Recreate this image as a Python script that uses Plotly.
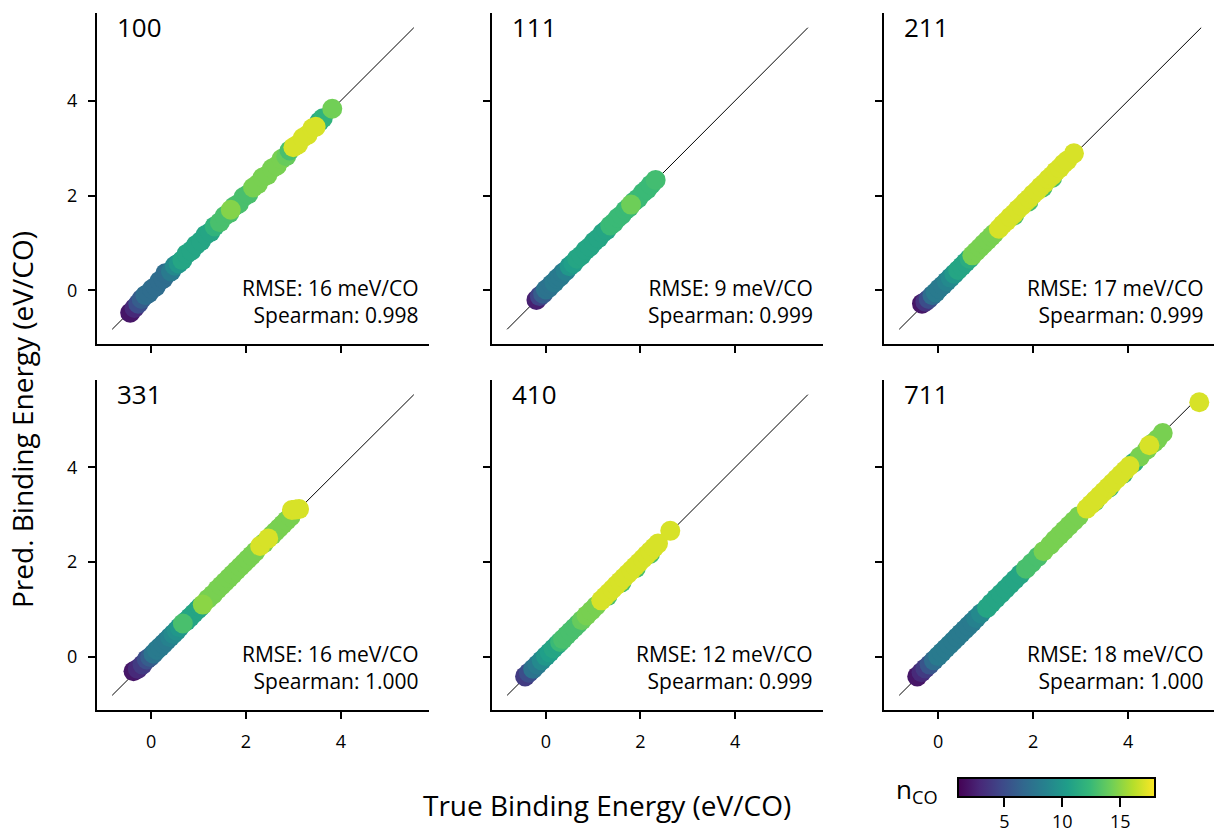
import plotly.graph_objects as go

# ---------------- data ----------------
panel_names = ["100", "111", "211", "331", "410", "711"]
rmse_vals = [16, 9, 17, 16, 12, 18]
spearman_vals = ["0.998", "0.999", "0.999", "1.000", "0.999", "1.000"]

true_100 = [-0.44, -0.35, -0.27, -0.20, -0.12, -0.05, 0.02, 0.10, 0.18, 0.26, 0.30, 0.34, 0.42, 0.50, 0.58,
            0.66, 0.75, 0.85, 0.95, 1.05, 1.15, 1.25, 1.34, 1.45, 1.55, 1.65, 1.75, 1.85, 1.95, 2.05,
            2.15, 2.25, 2.35, 2.45, 2.55, 2.65, 2.75, 2.85, 2.92, 3.55, 3.62, 3.00, 3.10, 3.20, 3.30, 3.40, 3.47,
            3.82, 1.68]
pred_100 = [-0.47, -0.37, -0.28, -0.18, -0.10, -0.06, 0.03, 0.08, 0.20, 0.25, 0.36, 0.36, 0.40, 0.52, 0.57,
            0.64, 0.77, 0.84, 0.96, 1.04, 1.17, 1.23, 1.35, 1.44, 1.57, 1.63, 1.77, 1.83, 1.97, 2.03,
            2.17, 2.24, 2.38, 2.43, 2.57, 2.63, 2.77, 2.83, 2.95, 3.56, 3.63, 3.02, 3.08, 3.22, 3.28, 3.42, 3.45,
            3.83, 1.70]
n_100 = [2, 3, 5, 6, 7, 7, 7, 7, 7, 7, 7, 7, 8, 9, 10,
         11, 11, 11, 11, 11, 11, 11, 12, 13, 13, 13, 13, 13, 13, 13,
         14.5, 14.5, 14.5, 14.5, 14.5, 14.5, 14.5, 14, 13, 11, 12, 17, 17, 17, 17, 17, 17,
         14.3, 14.8]

true_111 = [-0.20, -0.13, -0.06, 0.00, 0.06, 0.12, 0.18, 0.24, 0.30, 0.36, 0.42, 0.50, 0.58, 0.66, 0.75,
            0.84, 0.93, 1.02, 1.11, 1.20, 1.28, 1.36, 1.44, 1.52, 1.60, 1.68, 1.76, 1.86, 1.95, 2.05,
            2.14, 2.22, 2.32, 1.80]
pred_111 = [-0.20, -0.12, -0.07, 0.02, 0.05, 0.13, 0.17, 0.25, 0.29, 0.37, 0.41, 0.51, 0.57, 0.67, 0.74,
            0.85, 0.92, 1.03, 1.10, 1.21, 1.27, 1.37, 1.43, 1.53, 1.59, 1.69, 1.75, 1.87, 1.94, 2.06,
            2.13, 2.23, 2.33, 1.81]
n_111 = [2.5, 4.5, 6, 7.5, 7.5, 7.5, 8, 8, 8, 8, 8.5, 10, 10.5, 11, 11,
         11, 11, 11, 11, 11, 11, 12.5, 12.5, 12.5, 12.5, 12.5, 12.5, 12.5, 12.5, 12.5,
         12.5, 12.5, 12.8, 14.2]

true_211 = [-0.34, -0.27, -0.20, -0.12, -0.05, 0.02, 0.10, 0.18, 0.26, 0.34, 0.42, 0.50, 0.58, 0.66,
            0.72, 0.80, 0.88, 0.96, 1.04, 1.12, 1.18, 1.60, 1.90, 2.20, 2.40,
            1.28, 1.36, 1.44, 1.52, 1.60, 1.68, 1.76, 1.84, 1.92, 2.00, 2.08, 2.16, 2.24, 2.32, 2.40,
            2.48, 2.56, 2.64, 2.72, 2.86]
pred_211 = [-0.28, -0.24, -0.18, -0.10, -0.04, 0.04, 0.11, 0.19, 0.27, 0.35, 0.43, 0.51, 0.59, 0.67,
            0.74, 0.82, 0.90, 0.98, 1.06, 1.14, 1.20, 1.58, 1.87, 2.17, 2.37,
            1.30, 1.39, 1.46, 1.55, 1.62, 1.71, 1.78, 1.87, 1.94, 2.03, 2.10, 2.19, 2.26, 2.35, 2.42,
            2.51, 2.58, 2.67, 2.74, 2.89]
n_211 = [2, 3.5, 5, 7, 8, 8, 8, 8.5, 9, 10, 11, 11, 11, 11.5,
         14.5, 14.5, 14.5, 14.5, 14.5, 14.5, 14.5, 13, 13, 13, 13,
         17, 17, 17, 17, 17, 17, 17, 17, 17, 17, 17, 17, 17, 17, 17,
         17, 17, 17, 17, 17]

true_331 = [-0.37, -0.28, -0.18, -0.09, -0.02, 0.05, 0.12, 0.19, 0.26, 0.33, 0.40, 0.47, 0.54, 0.60,
            0.74, 0.82, 0.90, 0.98, 1.04, 0.67,
            1.20, 1.30, 1.40, 1.48, 1.56, 1.64, 1.72, 1.80, 1.88, 1.96, 2.04, 2.12, 2.20, 1.09,
            2.38, 2.55, 2.62, 2.70, 2.78, 2.86, 2.94, 2.30, 2.47, 2.97, 3.05, 3.12]
pred_331 = [-0.31, -0.26, -0.17, -0.06, -0.01, 0.06, 0.14, 0.20, 0.27, 0.34, 0.41, 0.48, 0.55, 0.62,
            0.75, 0.83, 0.91, 0.99, 1.05, 0.70,
            1.22, 1.31, 1.42, 1.50, 1.58, 1.66, 1.74, 1.82, 1.90, 1.98, 2.06, 2.14, 2.22, 1.10,
            2.40, 2.57, 2.64, 2.72, 2.80, 2.88, 2.96, 2.34, 2.50, 3.10, 3.11, 3.12]
n_331 = [2, 3, 4, 5, 6, 7.5, 8, 8, 8, 8, 8.5, 9, 9.5, 10,
         11, 11, 11, 11, 11, 13,
         14.5, 14.5, 14.5, 14.5, 14.5, 14.5, 14.5, 14.5, 14.5, 14.5, 14.5, 14.5, 14.5, 15,
         14.5, 14.5, 14.5, 14.5, 14.5, 14.5, 14.5, 17, 17, 17, 17, 17]

true_410 = [-0.44, -0.36, -0.27, -0.18, -0.09, 0.00, 0.08, 0.16, 0.24, 0.30, 0.36, 0.44, 0.52, 0.60,
            0.68, 0.76, 0.86, 0.96, 1.06, 1.30, 1.60, 1.90, 2.20,
            1.17, 1.25, 1.33, 1.41, 1.49, 1.57, 1.65, 1.73, 1.81, 1.89, 1.97, 2.05, 2.13, 2.21, 2.29, 2.37, 2.63]
pred_410 = [-0.42, -0.34, -0.26, -0.17, -0.08, 0.01, 0.09, 0.17, 0.25, 0.31, 0.37, 0.45, 0.53, 0.61,
            0.69, 0.77, 0.87, 0.97, 1.07, 1.28, 1.57, 1.87, 2.17,
            1.19, 1.27, 1.35, 1.43, 1.51, 1.59, 1.67, 1.75, 1.83, 1.91, 1.99, 2.07, 2.15, 2.23, 2.31, 2.39, 2.66]
n_410 = [4, 5, 7.5, 8, 9, 10, 10.5, 11, 11, 12.5, 13, 13, 13, 13,
         13, 14, 14.5, 14.5, 14.5, 13, 13, 13, 13,
         17, 17, 17, 17, 17, 17, 17, 17, 17, 17, 17, 17, 17, 17, 17, 17, 17]

true_711 = [-0.44, -0.35, -0.27, -0.18, -0.09, 0.00, 0.08, 0.16, 0.24, 0.32, 0.40, 0.48, 0.56, 0.64,
            0.72, 0.80, 0.90, 1.03, 1.12, 1.22, 1.32, 1.42, 1.52, 1.62, 1.73, 1.85, 1.97,
            2.10, 2.22, 2.36, 2.46, 2.56, 2.66, 2.76, 2.86, 2.96, 3.30, 3.60, 3.90, 4.12, 4.25, 4.40, 4.55, 4.62,
            3.13, 3.22, 3.31, 3.40, 3.49, 3.58, 3.67, 3.76, 3.85, 3.94, 4.03, 4.73, 4.45, 5.50]
pred_711 = [-0.42, -0.33, -0.25, -0.17, -0.08, 0.01, 0.09, 0.17, 0.25, 0.33, 0.41, 0.49, 0.57, 0.65,
            0.73, 0.81, 0.91, 1.03, 1.13, 1.23, 1.33, 1.43, 1.53, 1.63, 1.74, 1.86, 1.98,
            2.11, 2.23, 2.36, 2.47, 2.57, 2.67, 2.77, 2.87, 2.97, 3.28, 3.57, 3.87, 4.10, 4.23, 4.38, 4.53, 4.60,
            3.13, 3.22, 3.31, 3.40, 3.49, 3.58, 3.67, 3.76, 3.85, 3.94, 4.03, 4.73, 4.47, 5.38]
n_711 = [2, 3, 4, 5.5, 7, 8, 8, 8, 8, 8, 8, 8, 8, 8,
         8, 8.5, 9, 11, 11, 11, 11, 11, 11, 11, 11, 13, 13,
         13, 14.5, 14.5, 14.5, 14.5, 14.5, 14.5, 14.5, 14.5, 12, 12, 12, 12, 14.5, 14.5, 14.5, 14.5,
         17, 17, 17, 17, 17, 17, 17, 17, 17, 17, 17, 14.5, 17, 17]

true_all = [true_100, true_111, true_211, true_331, true_410, true_711]
pred_all = [pred_100, pred_111, pred_211, pred_331, pred_410, pred_711]
n_all = [n_100, n_111, n_211, n_331, n_410, n_711]

diag_line = [-0.82, 5.54]
tick_vals = [0, 2, 4]
cbar_ticks = [5, 10, 15]
n_min, n_max = 1, 18

# ---------------- layout ----------------
W, H = 1214, 839
FONT = "Open Sans"
col_px = [(97, 429), (492, 823), (884, 1214)]
row_px = [(13, 344), (380, 710)]
x_ranges = [[-1.14, 5.86], [-1.14, 5.86], [-1.14, 5.81]]
y_range = [-1.13, 5.85]

fig = go.Figure()
layout = dict(
    width=W, height=H, margin=dict(l=0, r=0, t=0, b=0),
    paper_bgcolor="white", plot_bgcolor="white",
    showlegend=False, font=dict(family=FONT, color="black"),
)
annotations = []

for i, name in enumerate(panel_names):
    r, c = divmod(i, 3)
    k = "" if i == 0 else str(i + 1)
    xa, ya = "x" + k, "y" + k
    axis_common = dict(showline=True, linecolor="black", linewidth=2, mirror=False,
                       ticks="outside", ticklen=7, tickwidth=2, tickcolor="black",
                       showgrid=False, zeroline=False, tickvals=tick_vals,
                       tickfont=dict(size=18, family=FONT, color="black"))
    layout["xaxis" + k] = dict(axis_common, domain=[col_px[c][0] / W, col_px[c][1] / W],
                               range=x_ranges[c], anchor=ya, showticklabels=(r == 1),
                               ticklabelstandoff=7)
    layout["yaxis" + k] = dict(axis_common, domain=[1 - row_px[r][1] / H, 1 - row_px[r][0] / H],
                               range=y_range, anchor=xa, showticklabels=(c == 0),
                               ticklabelstandoff=7)

    fig.add_trace(go.Scatter(x=diag_line, y=diag_line, mode="lines",
                             line=dict(color="black", width=1), xaxis=xa, yaxis=ya,
                             hoverinfo="skip"))
    marker = dict(size=20, color=n_all[i], colorscale="Viridis", cmin=n_min, cmax=n_max,
                  line=dict(width=0), opacity=1)
    if i == len(panel_names) - 1:
        marker["showscale"] = True
        marker["colorbar"] = dict(
            orientation="h", x=(958 + 1155) / 2 / W, xanchor="center",
            y=1 - 778 / H, yanchor="top", len=197, lenmode="pixels",
            thickness=19, thicknessmode="pixels", outlinewidth=2, outlinecolor="black",
            ticks="outside", ticklen=9, tickwidth=2, tickcolor="black",
            tickvals=cbar_ticks, tickfont=dict(size=18, family=FONT, color="black"),
            xpad=0, ypad=0)
    else:
        marker["showscale"] = False
    fig.add_trace(go.Scatter(x=true_all[i], y=pred_all[i], mode="markers", marker=marker,
                             xaxis=xa, yaxis=ya))

    annotations.append(dict(text=name, xref=xa + " domain", yref=ya + " domain",
                            x=0.054, y=0.957, xanchor="left", yanchor="middle",
                            showarrow=False, font=dict(size=26, family=FONT)))
    annotations.append(dict(text=f"RMSE: {rmse_vals[i]} meV/CO<br>Spearman: {spearman_vals[i]}",
                            xref=xa + " domain", yref=ya + " domain",
                            x=0.976, y=0.128, xanchor="right", yanchor="middle", align="right",
                            showarrow=False, font=dict(size=21, family=FONT)))

annotations.append(dict(text="True Binding Energy (eV/CO)", xref="paper", yref="paper",
                        x=607 / W, y=1 - 805 / H, xanchor="center", yanchor="middle",
                        showarrow=False, font=dict(size=28, family=FONT)))
annotations.append(dict(text="Pred. Binding Energy (eV/CO)", xref="paper", yref="paper",
                        x=22 / W, y=1 - 420 / H, xanchor="center", yanchor="middle", textangle=-90,
                        showarrow=False, font=dict(size=28, family=FONT)))
annotations.append(dict(text="n<sub>CO</sub>", xref="paper", yref="paper",
                        x=940 / W, y=1 - 790 / H, xanchor="right", yanchor="middle",
                        showarrow=False, font=dict(size=26, family=FONT)))

layout["annotations"] = annotations
fig.update_layout(**layout)
fig.write_html("out.html")
